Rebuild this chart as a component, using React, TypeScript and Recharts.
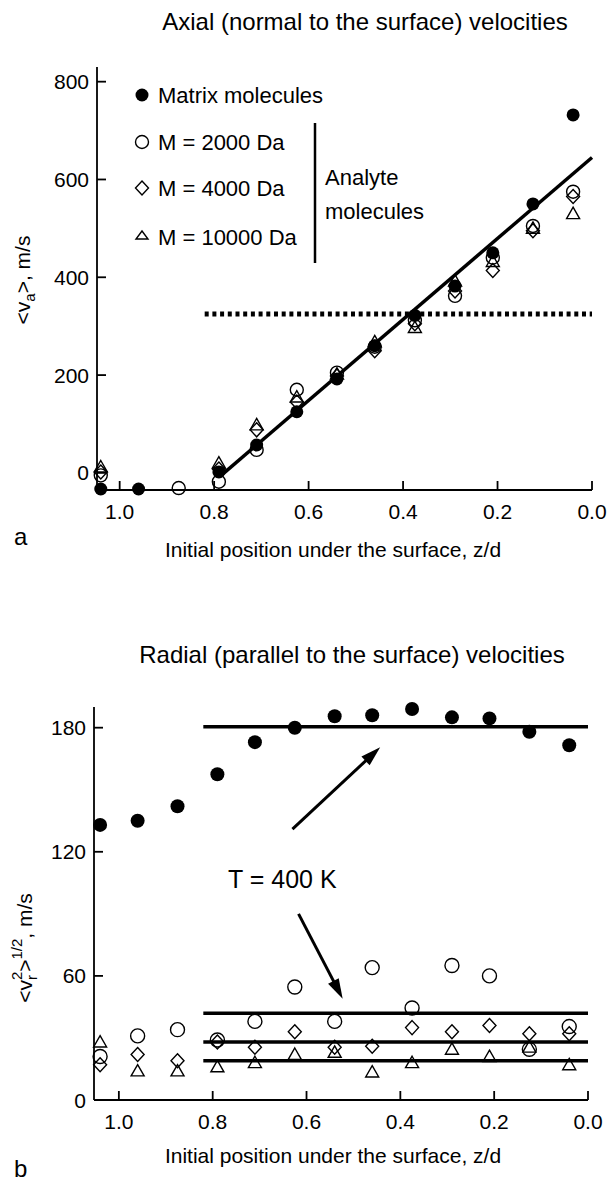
import React from 'react';
import { ScatterChart, Scatter, XAxis, YAxis, ReferenceLine, Legend } from 'recharts';

const FONT = '"Liberation Sans", Arial, Helvetica, sans-serif';

// initial positions under the surface, z/d
const positions = [1.04, 0.96, 0.875, 0.79, 0.71, 0.625, 0.54, 0.46, 0.375, 0.29, 0.21, 0.125, 0.04];
const xTicks = [1.0, 0.8, 0.6, 0.4, 0.2, 0.0];

// panel a: axial velocities <v_a>, m/s
const axialMatrix = [-33, -33, null, 2, 57, 125, 192, 260, 322, 382, 450, 550, 732];
const axialM2000 = [-5, null, -31, -18, 47, 170, 205, 258, 312, 362, 440, 505, 575];
const axialM4000 = [2, null, null, 8, 88, 145, 198, 250, 305, 372, 414, 495, 565];
const axialM10000 = [12, null, null, 20, 98, 155, 202, 268, 297, 392, 432, 500, 530];
const axialYTicks = [0, 200, 400, 600, 800];
const axialFitZ = [0.785, 0.0];
const axialFitV = [-5, 645];
const thresholdZ = [0.82, 0.0];
const thresholdV = 325;

// panel b: radial velocities <v_r^2>^1/2, m/s
const radialMatrix = [133, 135, 142, 157.5, 173, 180, 185.5, 186, 189, 185, 184.5, 178, 171.5];
const radialM2000 = [21, 31, 34, 29, 38, 54.6, 38, 64, 44.5, 65, 60, 24.5, 35.5];
const radialM4000 = [17, 22, 19, 28, 25.5, 33, 25.5, 26, 35, 33, 36, 32, 32];
const radialM10000 = [28, 14, 14, 16, 18, 22, 23, 13.5, 18, 24.5, 21, 25.5, 17];
const radialYTicks = [0, 60, 120, 180];
const levelZ = [0.82, 0.0];
const levelMatrix = 180.5;
const levelAnalyte = [42, 28, 19];
const arrowUpZ = [0.63, 0.443];
const arrowUpV = [131, 170.5];
const arrowDownZ = [0.617, 0.523];
const arrowDownV = [90, 49];

const mk = (vals: (number | null)[]) =>
  positions.map((z, i) => ({ z, v: vals[i] })).filter((d) => d.v !== null);

const filledDot = (r: number) => (p: any) => <circle cx={p.cx} cy={p.cy} r={r} fill="#000" />;
const openDot = (r: number) => (p: any) => (
  <circle cx={p.cx} cy={p.cy} r={r} fill="none" stroke="#000" strokeWidth={1.4} />
);
const diamond = (w: number, h: number) => (p: any) => (
  <polygon
    points={`${p.cx},${p.cy - h} ${p.cx + w},${p.cy} ${p.cx},${p.cy + h} ${p.cx - w},${p.cy}`}
    fill="none"
    stroke="#000"
    strokeWidth={1.4}
  />
);
const triangle = (w: number) => (p: any) => (
  <polygon
    points={`${p.cx},${p.cy - w} ${p.cx + w},${p.cy + w * 0.75} ${p.cx - w},${p.cy + w * 0.75}`}
    fill="none"
    stroke="#000"
    strokeWidth={1.4}
  />
);

const XTick = (p: any) => {
  const { x, y, payload } = p;
  return (
    <g>
      <line x1={x} x2={x} y1={y} y2={y - 9} stroke="#000" strokeWidth={1.8} />
      <text x={x} y={y + 29} textAnchor="middle" fontFamily={FONT} fontSize={21} fill="#000">
        {Number(payload.value).toFixed(1)}
      </text>
    </g>
  );
};

const YTick = (p: any) => {
  const { x, y, payload } = p;
  return (
    <g>
      <line x1={x} x2={x + 9} y1={y} y2={y} stroke="#000" strokeWidth={1.8} />
      <text x={x - 8} y={y + 7.5} textAnchor="end" fontFamily={FONT} fontSize={21} fill="#000">
        {payload.value}
      </text>
    </g>
  );
};

const ArrowShape = (props: any) => {
  const { x1, y1, x2, y2 } = props;
  const ang = Math.atan2(y2 - y1, x2 - x1);
  const L = 20;
  const W = 6;
  const bx = x2 - L * Math.cos(ang);
  const by = y2 - L * Math.sin(ang);
  const px = -Math.sin(ang) * W;
  const py = Math.cos(ang) * W;
  return (
    <g>
      <line x1={x1} y1={y1} x2={bx + 2 * Math.cos(ang)} y2={by + 2 * Math.sin(ang)} stroke="#000" strokeWidth={3} />
      <polygon points={`${x2},${y2} ${bx + px},${by + py} ${bx - px},${by - py}`} fill="#000" />
    </g>
  );
};

const legendText = { fontFamily: FONT, fontSize: 22, fill: '#000' } as const;

const LegendA = () => (
  <svg width={320} height={200} style={{ overflow: 'visible' }}>
    <circle cx={14} cy={17} r={6.5} fill="#000" />
    <text x={30} y={25} {...legendText}>Matrix molecules</text>
    <circle cx={14} cy={64} r={6.5} fill="none" stroke="#000" strokeWidth={1.4} />
    <text x={30} y={72} {...legendText}>M = 2000 Da</text>
    <polygon points="14,103 20.5,110 14,117 7.5,110" fill="none" stroke="#000" strokeWidth={1.4} />
    <text x={30} y={118} {...legendText}>M = 4000 Da</text>
    <polygon points="14,153 20,161 8,161" fill="none" stroke="#000" strokeWidth={1.4} />
    <text x={30} y={167} {...legendText}>M = 10000 Da</text>
    <line x1={187} x2={187} y1={45} y2={185} stroke="#000" strokeWidth={2.5} />
    <text x={197} y={107} {...legendText}>Analyte</text>
    <text x={197} y={141} {...legendText}>molecules</text>
  </svg>
);

const axisLine = { stroke: '#000', strokeWidth: 1.8 };
const Y_W = 60;
const X_H = 40;

export default function App() {
  return (
    <div style={{ position: 'absolute', left: 0, top: 0, width: 612, height: 1182, background: '#fff' }}>
      {/* Panel a */}
      <div style={{ position: 'absolute', left: 0, top: 0 }}>
        <ScatterChart width={612} height={560} margin={{ top: 67, right: 20, bottom: 70 - X_H, left: 97 - Y_W }}>
          <XAxis
            type="number"
            dataKey="z"
            domain={[0, 1.048]}
            reversed
            ticks={xTicks}
            interval={0}
            height={X_H}
            tickSize={0}
            tickMargin={0}
            tickLine={false}
            axisLine={axisLine}
            tick={XTick}
          />
          <YAxis
            type="number"
            dataKey="v"
            domain={[-35, 830]}
            ticks={axialYTicks}
            interval={0}
            width={Y_W}
            tickSize={0}
            tickMargin={0}
            tickLine={false}
            axisLine={axisLine}
            tick={YTick}
          />
          <ReferenceLine
            segment={[{ x: thresholdZ[0], y: thresholdV }, { x: thresholdZ[1], y: thresholdV }]}
            stroke="#000"
            strokeWidth={5}
            strokeDasharray="4 3.7"
          />
          <ReferenceLine
            segment={[{ x: axialFitZ[0], y: axialFitV[0] }, { x: axialFitZ[1], y: axialFitV[1] }]}
            stroke="#000"
            strokeWidth={3.5}
          />
          <Scatter data={mk(axialM2000)} dataKey="v" shape={openDot(6.5)} isAnimationActive={false} />
          <Scatter data={mk(axialM4000)} dataKey="v" shape={diamond(6.5, 7)} isAnimationActive={false} />
          <Scatter data={mk(axialM10000)} dataKey="v" shape={triangle(6.5)} isAnimationActive={false} />
          <Scatter data={mk(axialMatrix)} dataKey="v" shape={filledDot(6.5)} isAnimationActive={false} />
          <Legend
            layout="vertical"
            align="center"
            verticalAlign="middle"
            content={LegendA}
            wrapperStyle={{ left: 128, top: 78, width: 320, height: 200 }}
          />
        </ScatterChart>
      </div>

      {/* Panel b */}
      <div style={{ position: 'absolute', left: 0, top: 600 }}>
        <ScatterChart width={612} height={582} margin={{ top: 107, right: 24, bottom: 82 - X_H, left: 94 - Y_W }}>
          <XAxis
            type="number"
            dataKey="z"
            domain={[0, 1.053]}
            reversed
            ticks={xTicks}
            interval={0}
            height={X_H}
            tickSize={0}
            tickMargin={0}
            tickLine={false}
            axisLine={axisLine}
            tick={XTick}
          />
          <YAxis
            type="number"
            dataKey="v"
            domain={[0, 190]}
            ticks={radialYTicks}
            interval={0}
            width={Y_W}
            tickSize={0}
            tickMargin={0}
            tickLine={false}
            axisLine={axisLine}
            tick={YTick}
          />
          <ReferenceLine
            segment={[{ x: levelZ[0], y: levelMatrix }, { x: levelZ[1], y: levelMatrix }]}
            stroke="#000"
            strokeWidth={3.5}
          />
          {levelAnalyte.map((lv, i) => (
            <ReferenceLine
              key={i}
              segment={[{ x: levelZ[0], y: lv }, { x: levelZ[1], y: lv }]}
              stroke="#000"
              strokeWidth={3.5}
            />
          ))}
          <ReferenceLine
            segment={[{ x: arrowUpZ[0], y: arrowUpV[0] }, { x: arrowUpZ[1], y: arrowUpV[1] }]}
            stroke="#000"
            shape={ArrowShape}
          />
          <ReferenceLine
            segment={[{ x: arrowDownZ[0], y: arrowDownV[0] }, { x: arrowDownZ[1], y: arrowDownV[1] }]}
            stroke="#000"
            shape={ArrowShape}
          />
          <Scatter data={mk(radialM2000)} dataKey="v" shape={openDot(7)} isAnimationActive={false} />
          <Scatter data={mk(radialM4000)} dataKey="v" shape={diamond(6.5, 7)} isAnimationActive={false} />
          <Scatter data={mk(radialM10000)} dataKey="v" shape={triangle(6.5)} isAnimationActive={false} />
          <Scatter data={mk(radialMatrix)} dataKey="v" shape={filledDot(7)} isAnimationActive={false} />
        </ScatterChart>
      </div>

      {/* Text overlay */}
      <svg
        width={612}
        height={1182}
        style={{ position: 'absolute', left: 0, top: 0, pointerEvents: 'none' }}
      >
        <g fontFamily={FONT} fill="#000">
          <text x={365} y={30} fontSize={24} textAnchor="middle">Axial (normal to the surface) velocities</text>
          <text x={333} y={557} fontSize={21} textAnchor="middle">Initial position under the surface, z/d</text>
          <text x={14} y={545} fontSize={24}>a</text>
          <text transform="translate(30,280) rotate(-90)" fontSize={21} textAnchor="middle">
            &lt;v<tspan dy={5} fontSize={15}>a</tspan><tspan dy={-5}>&gt;, m/s</tspan>
          </text>

          <text x={352} y={663} fontSize={24} textAnchor="middle">Radial (parallel to the surface) velocities</text>
          <text x={228} y={888} fontSize={25}>T = 400 K</text>
          <text x={333} y={1163} fontSize={21} textAnchor="middle">Initial position under the surface, z/d</text>
          <text x={14} y={1177} fontSize={24}>b</text>
          <text transform="translate(32,948) rotate(-90)" fontSize={21} textAnchor="middle">
            &lt;v<tspan dy={5} fontSize={15}>r</tspan>
            <tspan dx={-5} dy={-15} fontSize={15}>2</tspan>
            <tspan dy={10} fontSize={21}>&gt;</tspan>
            <tspan dy={-10} fontSize={15}>1/2</tspan>
            <tspan dy={10} fontSize={21}>, m/s</tspan>
          </text>
        </g>
      </svg>
    </div>
  );
}
